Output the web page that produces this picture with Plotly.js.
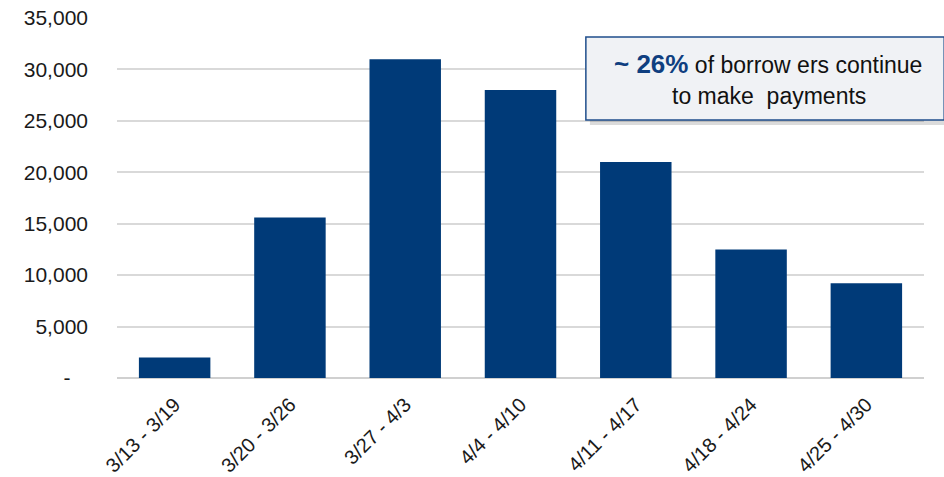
<!DOCTYPE html>
<html><head><meta charset="utf-8">
<script src="https://cdn.plot.ly/plotly-3.0.1.min.js"></script>
<style>html,body{margin:0;padding:0;background:#fff}#chart{width:944px;height:477px}</style>
</head><body><div id="chart"></div>
<script>
const categories = ["3/13 - 3/19","3/20 - 3/26","3/27 - 4/3","4/4 - 4/10","4/11 - 4/17","4/18 - 4/24","4/25 - 4/30"];
const borrowers = [2000, 15600, 31000, 28000, 21000, 12500, 9200];
const yTickVals = [0, 5000, 10000, 15000, 20000, 25000, 30000, 35000];
const yTickText = ["-\u00a0\u00a0\u00a0", "5,000", "10,000", "15,000", "20,000", "25,000", "30,000", "35,000"];

const trace = {
  type: "bar", x: categories, y: borrowers,
  marker: {color: "#003A78"}, hoverinfo: "x+y"
};
const layout = {
  width: 944, height: 477,
  margin: {l: 117, r: 20, t: 18, b: 99},
  paper_bgcolor: "#fff", plot_bgcolor: "#fff",
  bargap: 0.38, showlegend: false,
  font: {family: "Liberation Sans, Arial, sans-serif", color: "#1a1a1a", size: 20},
  xaxis: {tickangle: -45, showgrid: false, zeroline: false, showline: false, ticks: "",
          ticklabelstandoff: 10, tickfont: {size: 20, color: "#1a1a1a"}},
  yaxis: {range: [0, 35000], tickvals: yTickVals, ticktext: yTickText,
          showgrid: true, gridcolor: "#d9d9d9", gridwidth: 2, zeroline: true,
          zerolinecolor: "#d0d0d0", zerolinewidth: 2, ticks: "", ticklen: 0,
          ticklabelstandoff: 28, tickfont: {size: 21, color: "#1a1a1a"}},
  shapes: [
    {type: "rect", xref: "paper", yref: "paper", x0: 0.586, x1: 1.03, y0: 0.703, y1: 0.935,
     fillcolor: "rgba(0,0,0,0.14)", line: {width: 0}, layer: "above"},
    {type: "rect", xref: "paper", yref: "paper", x0: 0.581, x1: 1.025, y0: 0.717, y1: 0.947,
     fillcolor: "#F0F2F5", line: {color: "#1F4E8C", width: 1.5}, layer: "above"}
  ],
  annotations: [
    {xref: "paper", yref: "paper", x: 0.807, y: 0.872, showarrow: false,
     xanchor: "center", yanchor: "middle", align: "center",
     text: "<b><span style='color:#0F3F80;font-size:26px'>~ 26%</span></b> of borrow ers continue",
     font: {size: 23, color: "#111"}},
    {xref: "paper", yref: "paper", x: 0.808, y: 0.783, showarrow: false,
     xanchor: "center", yanchor: "middle", align: "center",
     text: "to make  payments",
     font: {size: 23, color: "#111"}}
  ]
};
Plotly.newPlot("chart", [trace], layout, {displayModeBar: false, staticPlot: true});
</script></body></html>
